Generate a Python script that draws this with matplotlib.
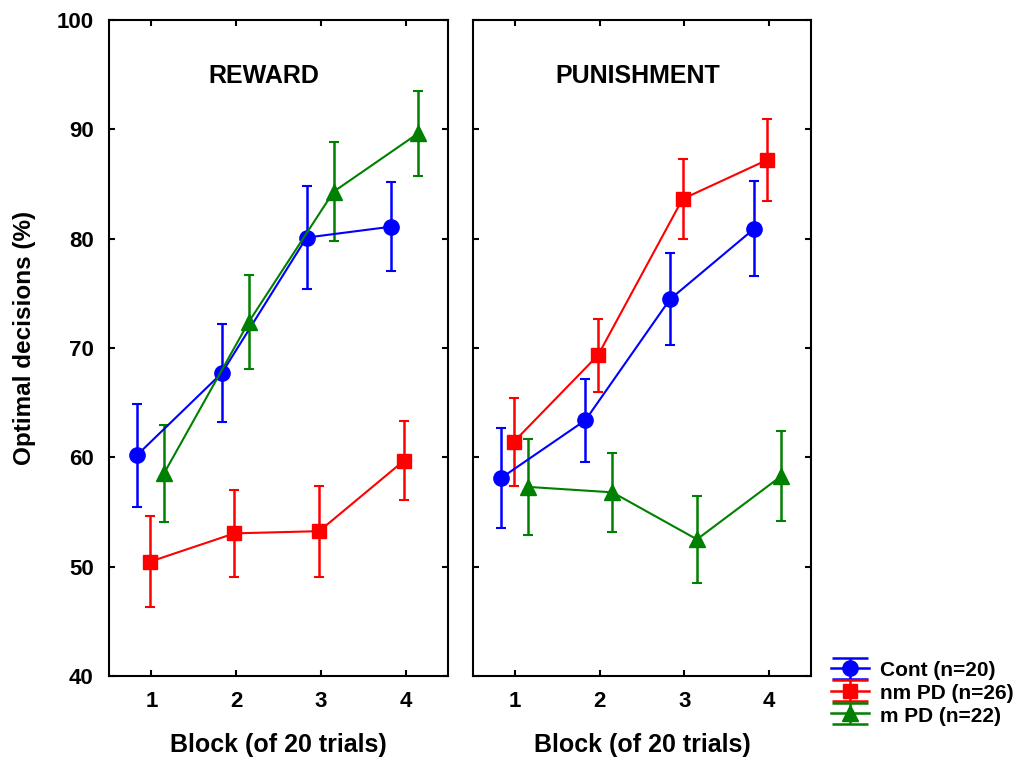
import numpy as np
import matplotlib.pyplot as plt

plt.rcParams['font.family'] = ['Liberation Sans', 'DejaVu Sans']
plt.rcParams['font.weight'] = 'bold'

blocks = [1, 2, 3, 4]
groups = ['Cont (n=20)', 'nm PD (n=26)', 'm PD (n=22)']
colors = ['#0000ff', '#ff0000', '#008000']
markers = ['o', 's', '^']
msizes = [11, 9.5, 11]
offsets = [-0.17, -0.02, 0.15]

# REWARD condition: means and error bars
reward_mean = {
    'Cont (n=20)': [60.2, 67.7, 80.1, 81.1],
    'nm PD (n=26)': [50.45, 53.05, 53.25, 59.7],
    'm PD (n=22)': [58.55, 72.4, 84.3, 89.65],
}
reward_err = {
    'Cont (n=20)': [4.7, 4.5, 4.7, 4.1],
    'nm PD (n=26)': [4.15, 3.95, 4.15, 3.6],
    'm PD (n=22)': [4.45, 4.3, 4.5, 3.9],
}

# PUNISHMENT condition
punish_mean = {
    'Cont (n=20)': [58.1, 63.4, 74.45, 80.93],
    'nm PD (n=26)': [61.4, 69.35, 83.63, 87.2],
    'm PD (n=22)': [57.3, 56.8, 52.5, 58.3],
}
punish_err = {
    'Cont (n=20)': [4.6, 3.8, 4.2, 4.33],
    'nm PD (n=26)': [4.0, 3.35, 3.66, 3.77],
    'm PD (n=22)': [4.4, 3.6, 4.0, 4.1],
}

fig = plt.figure(figsize=(10.19, 7.67), dpi=100)
ax1 = fig.add_axes([0.107, 0.1186, 0.3327, 0.8553])
ax2 = fig.add_axes([0.4642, 0.1186, 0.3317, 0.8553], sharey=ax1)

for ax, means, errs, title, tx in [(ax1, reward_mean, reward_err, 'REWARD', 0.457),
                                   (ax2, punish_mean, punish_err, 'PUNISHMENT', 0.487)]:
    for g, c, m, ms, off in zip(groups, colors, markers, msizes, offsets):
        x = np.array(blocks) + off
        ax.errorbar(x, means[g], yerr=errs[g], color=c, marker=m, markersize=ms,
                    linewidth=1.5, elinewidth=1.8, capsize=3.5, capthick=1.5)
    ax.text(tx, 0.914, title, transform=ax.transAxes, ha='center', va='center',
            fontsize=18, fontweight='bold')
    ax.set_xlim(0.5, 4.5)
    ax.set_ylim(40, 100)
    ax.set_xticks(blocks)
    ax.set_yticks(np.arange(40, 101, 10))
    ax.tick_params(direction='in', top=True, right=True, length=4, width=1.5,
                   labelsize=16)
    ax.tick_params(axis='x', pad=11)
    ax.tick_params(axis='y', pad=11)
    for s in ax.spines.values():
        s.set_linewidth(1.5)
    ax.set_xlabel('Block (of 20 trials)', fontsize=18, fontweight='bold', labelpad=15)

ax1.set_ylabel('Optimal decisions (%)', fontsize=17.5, fontweight='bold', labelpad=15)
ax1.yaxis.label.set_y(0.515)
ax2.tick_params(axis='y', labelleft=False)

# legend proxies with wide caps, like the original legend keys
handles = []
for c, m, ms in zip(colors, markers, msizes):
    h = ax2.errorbar([np.nan], [np.nan], yerr=[1], color=c, marker=m, markersize=ms,
                     linewidth=1.8, elinewidth=1.8, capsize=13, capthick=1.8)
    handles.append(h)

fig.legend(handles=handles, labels=groups, loc='upper left',
           bbox_to_anchor=(0.797, 0.164), frameon=False, fontsize=15,
           handlelength=1.85, handleheight=1.0, handletextpad=0.5,
           labelspacing=0.1)

fig.savefig('out.png', dpi=100)
